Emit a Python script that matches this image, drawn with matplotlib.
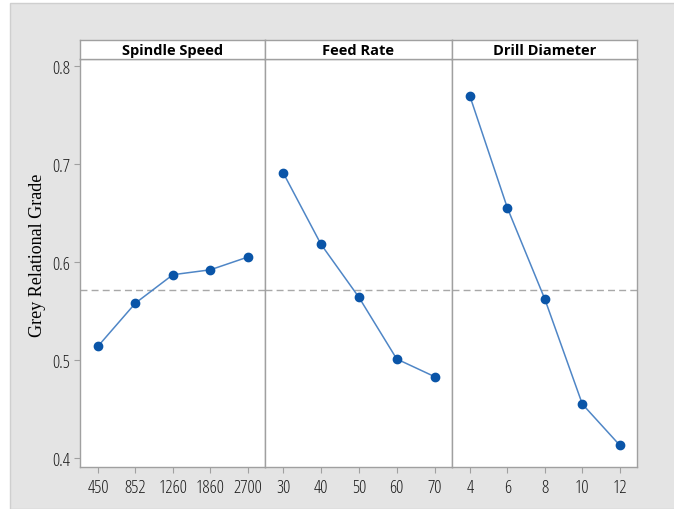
import matplotlib
matplotlib.use("Agg")
import matplotlib.pyplot as plt
from matplotlib.patches import Rectangle
from matplotlib import font_manager as fm

# Data
panels = ["Spindle Speed", "Feed Rate", "Drill Diameter"]
spindle_labels = ["450", "852", "1260", "1860", "2700"]
spindle_values = [0.514, 0.558, 0.587, 0.592, 0.605]
feed_labels = ["30", "40", "50", "60", "70"]
feed_values = [0.691, 0.618, 0.564, 0.501, 0.483]
drill_labels = ["4", "6", "8", "10", "12"]
drill_values = [0.769, 0.655, 0.562, 0.455, 0.413]
mean_grade = 0.571
y_ticks = [0.4, 0.5, 0.6, 0.7, 0.8]

# pick a condensed sans font if one is installed
entries = fm.fontManager.ttflist
cond = [f for f in entries
        if str(f.stretch) in ("condensed", "semi-condensed", "75", "87.5")
        or "Condensed" in f.name or "Narrow" in f.name]
stretch = "normal"
fam = "Lato"
for pref in ["Noto Sans", "Open Sans", "Roboto", "Liberation Sans Narrow", "Roboto Condensed"]:
    hits = [f for f in cond if f.name == pref]
    if hits:
        fam = pref
        if "Narrow" not in pref and "Condensed" not in pref:
            stretch = "condensed" if any(str(f.stretch) in ("condensed", "75") for f in hits) else "semi-condensed"
        break
else:
    named = [f.name for f in cond]
    if named:
        fam = named[0]

tick_font = {"family": [fam, "DejaVu Sans"], "size": 13, "stretch": stretch, "weight": "medium"}
title_font = {"family": [fam, "DejaVu Sans"], "size": 10.5, "weight": "bold", "stretch": stretch}

W, H = 674, 510
fig = plt.figure(figsize=(W / 100, H / 100), dpi=100)
fig.patch.set_facecolor("white")
fig.patches.append(Rectangle((10 / W, 0), 1, (H - 4) / H, transform=fig.transFigure,
                             facecolor="#e4e4e4", edgecolor="#cfcfcf", lw=1, zorder=-10))

def px(x0, y0, x1, y1):
    return [x0 / W, 1 - y1 / H, (x1 - x0) / W, (y1 - y0) / H]

bounds = [(80, 265), (265, 452), (452, 637)]
data = [(spindle_labels, spindle_values), (feed_labels, feed_values), (drill_labels, drill_values)]
edge = "#a0a0a0"

for i, ((x0, x1), (labels, vals), title) in enumerate(zip(bounds, data, panels)):
    ax = fig.add_axes(px(x0, 60, x1, 468))
    ax.set_facecolor("white")
    idx = list(range(len(labels)))
    ax.axhline(mean_grade, color="#a8a8a8", lw=1, ls=(0, (5, 3)), zorder=1)
    ax.plot(idx, vals, color="#4f86c6", lw=1.1, marker="o", markersize=6,
            markerfacecolor="#0a55a8", markeredgecolor="#0a55a8", zorder=3)
    ax.set_xlim(-0.48, 4.46)
    ax.set_ylim(0.3908, 0.8071)
    ax.set_xticks(idx)
    ax.set_xticklabels(labels, fontdict=tick_font)
    for s in ax.spines.values():
        s.set_color(edge)
        s.set_linewidth(1)
    ax.tick_params(axis="x", length=4, color=edge, pad=4, labelcolor="#1a1a1a")
    if i == 0:
        ax.set_yticks(y_ticks)
        ax.set_yticklabels([f"{v:.1f}" for v in y_ticks], fontdict=tick_font)
        ax.tick_params(axis="y", length=4, color=edge, pad=3, labelcolor="#1a1a1a")
    else:
        ax.tick_params(axis="y", left=False, labelleft=False)
    # header strip
    hx = fig.add_axes(px(x0, 41, x1, 60))
    hx.set_facecolor("white")
    hx.set_xticks([]); hx.set_yticks([])
    for s in hx.spines.values():
        s.set_color(edge)
        s.set_linewidth(1)
    hx.text(0.5, 0.45, title, ha="center", va="center", fontdict=title_font, transform=hx.transAxes)

fig.text(38 / W, 1 - 255 / H, "Grey Relational Grade", rotation=90, ha="center", va="center",
         family=["Liberation Serif", "DejaVu Serif"], size=13)

fig.savefig("out.png", dpi=100)
